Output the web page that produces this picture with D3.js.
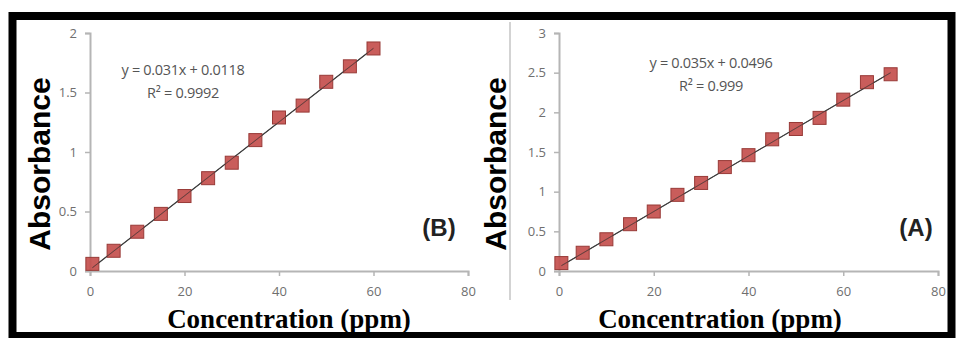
<!DOCTYPE html>
<html>
<head>
<meta charset="utf-8">
<script src="https://cdn.jsdelivr.net/npm/d3@7"></script>
<style>
  body { margin: 0; background: #fff; }
  .tick-label { font-family: "Open Sans", sans-serif; font-size: 13px; fill: #6f6f6f; }
  .eq { font-family: "Open Sans", sans-serif; font-size: 14.5px; fill: #555; letter-spacing: -0.3px; }
  .ylab { font-family: "Liberation Sans", Arial, sans-serif; font-weight: bold; font-size: 30px; fill: #000; }
  .xlab { font-family: "Liberation Serif", "Times New Roman", serif; font-weight: bold; font-size: 27px; fill: #000; }
  .tag { font-family: "Liberation Sans", Arial, sans-serif; font-weight: bold; font-size: 24px; fill: #222; }
</style>
</head>
<body>
<svg id="chart" width="959" height="338"></svg>
<script>
// panel (B)
const concB = [0.5, 5, 10, 15, 20, 25, 30, 35, 40, 45, 50, 55, 60];
const absB = [0.06, 0.17, 0.33, 0.48, 0.63, 0.78, 0.91, 1.10, 1.29, 1.39, 1.59, 1.72, 1.87];
const fitB = [0.031, 0.0118];
const eqB = ["y = 0.031x + 0.0118", "R\u00b2 = 0.9992"];
const yTicksB = [0, 0.5, 1, 1.5, 2];

// panel (A)
const concA = [0.5, 5, 10, 15, 20, 25, 30, 35, 40, 45, 50, 55, 60, 65, 70];
const absA = [0.10, 0.23, 0.40, 0.59, 0.75, 0.96, 1.11, 1.31, 1.46, 1.66, 1.79, 1.93, 2.16, 2.38, 2.48];
const fitA = [0.035, 0.0496];
const eqA = ["y = 0.035x + 0.0496", "R\u00b2 = 0.999"];
const yTicksA = [0, 0.5, 1, 1.5, 2, 2.5, 3];

const xTicks = [0, 20, 40, 60, 80];

const svg = d3.select("#chart");

function drawPanel(p) {
  var x = d3.scaleLinear().domain([0, 80]).range([p.x0, p.x1]);
  var y = d3.scaleLinear().domain([0, p.ymax]).range([271, 33]);
  var g = svg.append("g");

  // axes, excel style grey
  var ax = g.append("g").attr("transform", "translate(0,271)")
    .call(d3.axisBottom(x).tickValues(xTicks).tickSize(5).tickPadding(11));
  var ay = g.append("g").attr("transform", "translate(" + p.x0 + ",0)")
    .call(d3.axisLeft(y).tickValues(p.yTicks).tickSize(5).tickPadding(8).tickFormat(d3.format("")));
  [ax, ay].forEach(function (a) {
    a.select(".domain").attr("stroke", "#b5b5b5").attr("stroke-width", 2);
    a.selectAll(".tick line").attr("stroke", "#b5b5b5").attr("stroke-width", 1.5);
    a.selectAll(".tick text").attr("class", "tick-label").attr("fill", null);
  });

  // trend line
  var fx = [d3.min(p.conc), d3.max(p.conc)];
  g.append("line")
    .attr("x1", x(fx[0])).attr("y1", y(p.fit[0] * fx[0] + p.fit[1]))
    .attr("x2", x(fx[1])).attr("y2", y(p.fit[0] * fx[1] + p.fit[1]))
    .attr("stroke", "#3a3a3a").attr("stroke-width", 1.2);

  // markers
  g.append("g").selectAll("rect")
    .data(p.conc.map(function (c, i) { return [c, p.abs[i]]; }))
    .enter()
    .append("rect")
    .attr("x", function (d) { return x(d[0]) - 6.5; })
    .attr("y", function (d) { return y(d[1]) - 6.5; })
    .attr("width", 13).attr("height", 13)
    .attr("fill", "#c44f4d").attr("fill-opacity", 0.92)
    .attr("stroke", "#983a37").attr("stroke-width", 1);

  // re-draw line on top like excel
  g.append("line")
    .attr("x1", x(fx[0])).attr("y1", y(p.fit[0] * fx[0] + p.fit[1]))
    .attr("x2", x(fx[1])).attr("y2", y(p.fit[0] * fx[1] + p.fit[1]))
    .attr("stroke", "#3d3d3d").attr("stroke-opacity", 0.7).attr("stroke-width", 1);

  // equation
  g.append("text").attr("class", "eq").attr("x", p.eqX).attr("y", p.eqY)
    .attr("text-anchor", "middle").text(p.eq[0]);
  g.append("text").attr("class", "eq").attr("x", p.eqX).attr("y", p.eqY + 23)
    .attr("text-anchor", "middle").text(p.eq[1]);

  // labels
  g.append("text").attr("class", "ylab")
    .attr("transform", "translate(" + p.ylabX + ",164) rotate(-90)")
    .attr("text-anchor", "middle").text("Absorbance");
  g.append("text").attr("class", "xlab")
    .attr("x", p.xlabX).attr("y", 328).attr("text-anchor", "middle")
    .text("Concentration (ppm)");
  g.append("text").attr("class", "tag")
    .attr("x", p.tagX).attr("y", 236).attr("text-anchor", "middle").text(p.tag);
}

drawPanel({ x0: 90, x1: 468, ymax: 2, yTicks: yTicksB, conc: concB, abs: absB, fit: fitB,
  eq: eqB, eqX: 183, eqY: 75, ylabX: 50, xlabX: 289, tagX: 439, tag: "(B)" });
drawPanel({ x0: 559, x1: 938, ymax: 3, yTicks: yTicksA, conc: concA, abs: absA, fit: fitA,
  eq: eqA, eqX: 711, eqY: 68, ylabX: 506, xlabX: 720, tagX: 916, tag: "(A)" });

// divider between the two panels
svg.append("line").attr("x1", 510).attr("x2", 510).attr("y1", 22).attr("y2", 300)
  .attr("stroke", "#c4c4c4").attr("stroke-width", 1.5);

// black frame
svg.append("rect").attr("x", 12.5).attr("y", 16).attr("width", 939).attr("height", 320)
  .attr("fill", "none").attr("stroke", "#000").attr("stroke-width", 8);
</script>
</body>
</html>
